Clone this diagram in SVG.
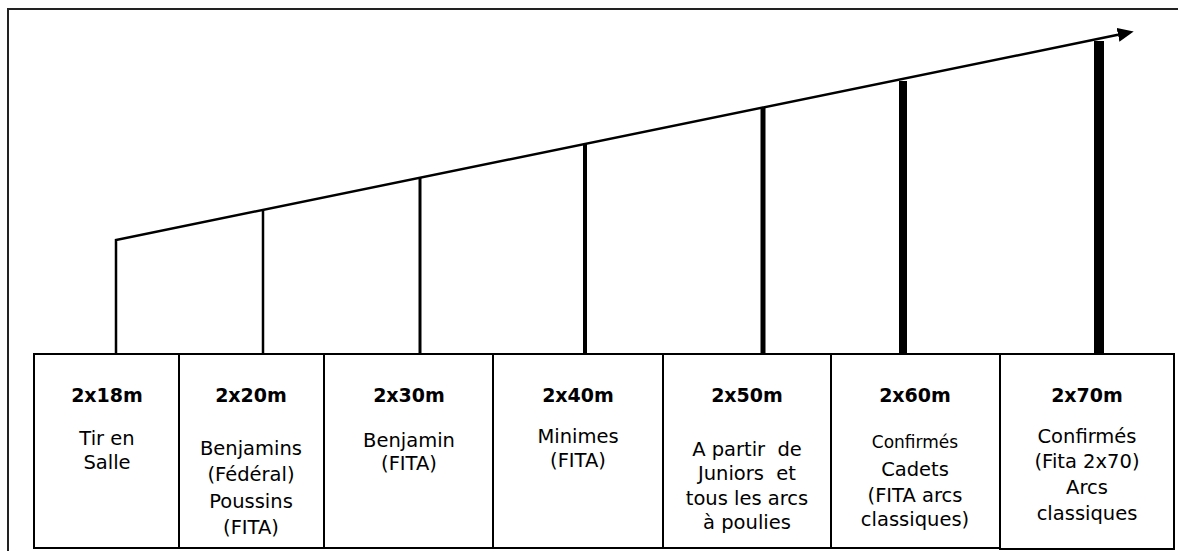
<svg xmlns="http://www.w3.org/2000/svg" width="1178" height="551" viewBox="0 0 1178 551">
<style>
  .frame{fill:none;stroke:#222;stroke-width:2}
  .box{fill:#fff;stroke:#000;stroke-width:2}
  .bar{stroke:#000;fill:none}
  .h{font-family:"DejaVu Sans",sans-serif;font-weight:bold;font-size:19px;text-anchor:middle;fill:#000}
  .t{font-family:"DejaVu Sans",sans-serif;font-size:19.5px;text-anchor:middle;fill:#000}
  .s{font-size:17px}
</style>
<defs>
  <marker id="arr" markerUnits="userSpaceOnUse" markerWidth="20" markerHeight="18" refX="0" refY="7" orient="auto" viewBox="0 0 20 18">
    <path d="M0,0 L16,7 L0,14 z" fill="#000"/>
  </marker>
</defs>
<rect width="1178" height="551" fill="#fff"/>
<path class="frame" d="M8,551 V9 H1178"/>
<g id="connectors">
  <polyline class="bar" stroke-width="2.5" points="116,354 116,240 1118,34.8" marker-end="url(#arr)" stroke-linejoin="miter"/>
  <line class="bar" stroke-width="2.5" x1="263" y1="210" x2="263" y2="354"/>
  <line class="bar" stroke-width="3" x1="420" y1="178" x2="420" y2="354"/>
  <line class="bar" stroke-width="4" x1="585" y1="144" x2="585" y2="354"/>
  <line class="bar" stroke-width="5" x1="763" y1="108" x2="763" y2="354"/>
  <line class="bar" stroke-width="8" x1="903" y1="81" x2="903" y2="354"/>
  <line class="bar" stroke-width="10" x1="1099" y1="41" x2="1099" y2="354"/>
</g>
<g id="n18">
  <rect class="box" x="34" y="354" width="145" height="194"/>
  <text class="h" x="107" y="402">2x18m</text>
  <text class="t" x="107" y="445">Tir en</text>
  <text class="t" x="107" y="469">Salle</text>
</g>
<g id="n20">
  <rect class="box" x="179" y="354" width="145" height="194"/>
  <text class="h" x="251" y="402">2x20m</text>
  <text class="t" x="251" y="455">Benjamins</text>
  <text class="t" x="251" y="481">(Fédéral)</text>
  <text class="t" x="251" y="508">Poussins</text>
  <text class="t" x="251" y="534">(FITA)</text>
</g>
<g id="n30">
  <rect class="box" x="324" y="354" width="169" height="194"/>
  <text class="h" x="409" y="402">2x30m</text>
  <text class="t" x="409" y="447">Benjamin</text>
  <text class="t" x="409" y="470">(FITA)</text>
</g>
<g id="n40">
  <rect class="box" x="493" y="354" width="170" height="194"/>
  <text class="h" x="578" y="402">2x40m</text>
  <text class="t" x="578" y="443">Minimes</text>
  <text class="t" x="578" y="467">(FITA)</text>
</g>
<g id="n50">
  <rect class="box" x="663" y="354" width="168" height="194"/>
  <text class="h" x="747" y="402">2x50m</text>
  <text class="t" x="747" y="456">A partir&#160; de</text>
  <text class="t" x="747" y="480">Juniors&#160; et</text>
  <text class="t" x="747" y="505">tous les arcs</text>
  <text class="t" x="747" y="529">à poulies</text>
</g>
<g id="n60">
  <rect class="box" x="831" y="354" width="169" height="194"/>
  <text class="h" x="915" y="402">2x60m</text>
  <text class="t s" x="915" y="448">Confirmés</text>
  <text class="t" x="915" y="476">Cadets</text>
  <text class="t" x="915" y="502">(FITA arcs</text>
  <text class="t" x="915" y="526">classiques)</text>
</g>
<g id="n70">
  <rect class="box" x="1000" y="354" width="174" height="195"/>
  <text class="h" x="1087" y="402">2x70m</text>
  <text class="t" x="1087" y="443">Confirmés</text>
  <text class="t" x="1087" y="468">(Fita 2x70)</text>
  <text class="t" x="1087" y="494">Arcs</text>
  <text class="t" x="1087" y="520">classiques</text>
</g>
</svg>
